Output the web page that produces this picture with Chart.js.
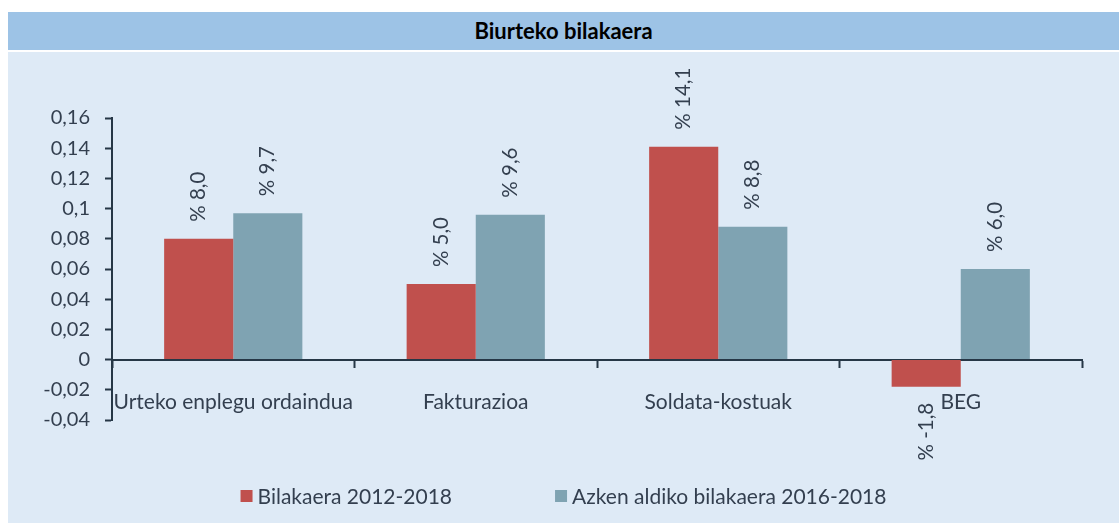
<!DOCTYPE html>
<html>
<head>
<meta charset="utf-8">
<script src="https://cdn.jsdelivr.net/npm/chart.js@4"></script>
<style>
  body { margin: 0; background: #fff; width: 1119px; height: 523px; position: relative; overflow: hidden; font-family: Lato, sans-serif; }
  #title { position: absolute; left: 8px; top: 12px; width: 1111px; height: 38px; background: #9DC3E6; color: #000; font-weight: bold; font-size: 22px; line-height: 38px; text-align: center; }
  #box { position: absolute; left: 8px; top: 52px; width: 1111px; height: 471px; background: #DEEAF6; }
</style>
</head>
<body>
<div id="title">Biurteko bilakaera</div>
<div id="box"><canvas id="chart" width="1111" height="471"></canvas></div>
<script>
// Chart data
const categories = ['Urteko enplegu ordaindua', 'Fakturazioa', 'Soldata-kostuak', 'BEG'];
const seriesNames = ['Bilakaera 2012-2018', 'Azken aldiko bilakaera 2016-2018'];
const evolution2012_2018 = [0.080, 0.050, 0.141, -0.018];
const evolution2016_2018 = [0.097, 0.096, 0.088, 0.060];
const yMin = -0.04, yMax = 0.16, yStep = 0.02;

const textColor = '#333F4F';
const axisColor = '#263746';
const seriesColors = ['#C0504D', '#7FA3B2'];

// value labels, rotated, above (or below) each bar
const barLabels = {
    id: 'barLabels',
    afterDatasetsDraw(chart) {
        const ctx = chart.ctx;
        ctx.save();
        ctx.font = '20.5px Lato';
        ctx.fillStyle = textColor;
        ctx.textBaseline = 'middle';
        chart.data.datasets.forEach((ds, i) => {
            chart.getDatasetMeta(i).data.forEach((bar, j) => {
                const v = ds.data[j];
                const txt = '% ' + (v * 100).toFixed(1).replace('.', ',');
                ctx.save();
                ctx.translate(bar.x, v >= 0 ? bar.y - 17 : bar.y + 16);
                ctx.rotate(-Math.PI / 2);
                ctx.textAlign = v >= 0 ? 'left' : 'right';
                ctx.fillText(txt, 0, 0);
                ctx.restore();
            });
        });
        ctx.restore();
    }
};

// simple legend at the bottom, wide gap between the two items
const bottomLegend = {
    id: 'bottomLegend',
    afterDraw(chart) {
        const ctx = chart.ctx;
        const box = 12, gapText = 5, gapItem = 103, y = 444;
        ctx.save();
        ctx.font = '21px Lato';
        ctx.textBaseline = 'middle';
        const items = chart.data.datasets.map(ds => ({
            label: ds.label, color: ds.backgroundColor, w: box + gapText + ctx.measureText(ds.label).width
        }));
        const total = items.reduce((s, it) => s + it.w, 0) + gapItem * (items.length - 1);
        let x = (chart.width - total) / 2;
        items.forEach(it => {
            ctx.fillStyle = it.color;
            ctx.fillRect(x, y - box / 2, box, box);
            ctx.fillStyle = textColor;
            ctx.textAlign = 'left';
            ctx.fillText(it.label, x + box + gapText, y + 1);
            x += it.w + gapItem;
        });
        ctx.restore();
    }
};

const ctx = document.getElementById('chart');
const chart = new Chart(ctx, {
    type: 'bar',
    data: {
        labels: categories,
        datasets: [
            { label: seriesNames[0], data: evolution2012_2018, backgroundColor: seriesColors[0] },
            { label: seriesNames[1], data: evolution2016_2018, backgroundColor: seriesColors[1] }
        ]
    },
    options: {
        responsive: false,
        animation: false,
        layout: { padding: { left: 0, top: 66, right: 37, bottom: 103 } },
        categoryPercentage: 0.57,
        barPercentage: 1,
        plugins: {
            legend: { display: false },
            tooltip: { enabled: false }
        },
        scales: {
            x: {
                position: { y: 0 },
                grid: { drawOnChartArea: false, drawTicks: true, tickLength: 7, tickColor: axisColor, tickWidth: 2, offset: true },
                border: { color: axisColor, width: 2 },
                ticks: { color: textColor, font: { family: 'Lato', size: 21 }, padding: 23, maxRotation: 0, autoSkip: false }
            },
            y: {
                min: yMin,
                max: yMax,
                afterFit: s => { s.width = 104; },
                grid: { drawOnChartArea: false, drawTicks: true, tickLength: 7, tickColor: axisColor, tickWidth: 2 },
                border: { color: axisColor, width: 2 },
                ticks: {
                    stepSize: yStep,
                    color: textColor,
                    font: { family: 'Lato', size: 20 },
                    padding: 15,
                    callback: v => String(Math.round(v * 100) / 100).replace('.', ',')
                }
            }
        }
    },
    plugins: [barLabels, bottomLegend]
});
</script>
</body>
</html>
